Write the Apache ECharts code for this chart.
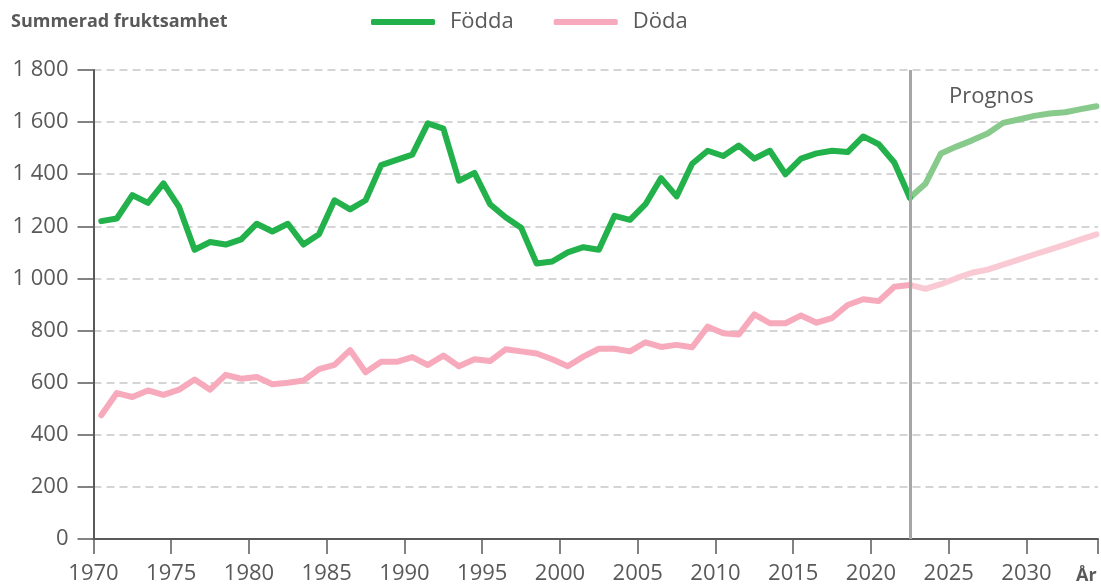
<!DOCTYPE html>
<html>
<head>
<meta charset="utf-8">
<script src="https://cdn.jsdelivr.net/npm/echarts@6/dist/echarts.min.js"></script>
<style>
    html, body { margin: 0; padding: 0; background: #fff; }
    #chart { width: 1101px; height: 585px; }
</style>
</head>
<body>
<div id="chart"></div>
<script>
// utfall 1970-2022
const years = [];
for (let y = 1970; y <= 2022; y++) years.push(y);
const fodda = [
    1220, 1230, 1320, 1290, 1365, 1275, 1110, 1140, 1130, 1150,
    1210, 1180, 1210, 1130, 1170, 1300, 1265, 1300, 1435, 1455,
    1475, 1595, 1575, 1375, 1405, 1285, 1235, 1195, 1057, 1065,
    1100, 1120, 1110, 1240, 1225, 1285, 1385, 1315, 1440, 1490,
    1470, 1510, 1460, 1490, 1400, 1460, 1480, 1490, 1485, 1545,
    1515, 1445, 1310
];
const doda = [
    475, 560, 545, 570, 553, 573, 612, 573, 630, 615,
    622, 594, 600, 608, 652, 668, 725, 640, 680, 680,
    698, 668, 704, 663, 690, 683, 728, 720, 712, 690,
    663, 700, 730, 730, 720, 755, 737, 745, 736, 815,
    790, 785, 862, 828, 828, 858, 830, 848, 898, 920,
    913, 968, 975
];
// prognos 2022-2034
const progYears = [2022, 2023, 2024, 2025, 2026, 2027, 2028, 2029, 2030, 2031, 2032, 2033, 2034];
const foddaProg = [1310, 1363, 1480, 1506, 1530, 1556, 1597, 1610, 1624, 1633, 1638, 1650, 1661];
const dodaProg = [975, 960, 978, 1001, 1022, 1034, 1053, 1072, 1092, 1111, 1130, 1150, 1169];

const textColor = '#595959';
const font = 'Open Sans';

// punkterna ligger mitt i året
const pts = (xs, vs) => xs.map((x, i) => [x + 0.5, vs[i]]);
const spaced = v => String(v).replace(/\B(?=(\d{3})+(?!\d))/g, ' ');

const chart = echarts.init(document.getElementById('chart'), null, { renderer: 'canvas' });
chart.setOption({
    animation: false,
    title: {
        text: 'Summerad fruktsamhet',
        left: 6,
        top: 8,
        textStyle: { fontFamily: font, fontSize: 18, fontWeight: 'bold', color: textColor },
    },
    legend: {
        data: ['Födda', 'Döda'],
        left: 366,
        top: 6,
        icon: 'roundRect',
        itemWidth: 64,
        itemHeight: 6,
        itemGap: 40,
        textStyle: { fontFamily: font, fontSize: 22, color: textColor, padding: [0, 0, 0, 10] },
    },
    grid: { left: 93.5, right: 3, top: 70, bottom: 44 },
    xAxis: {
        type: 'value',
        min: 1970,
        max: 2034.6,
        interval: 5,
        name: 'År',
        nameLocation: 'end',
        nameGap: -22,
        nameTextStyle: {
            fontFamily: font, fontSize: 18, fontWeight: 'bold', color: textColor,
            verticalAlign: 'top', padding: [28, 0, 0, 0],
        },
        axisLine: { lineStyle: { color: textColor, width: 2 } },
        axisTick: { length: 15, lineStyle: { color: textColor, width: 1.5 } },
        axisLabel: {
            fontFamily: font, fontSize: 22, color: textColor, margin: 24,
            formatter: v => (v > 2030 ? '' : String(v)),
        },
        splitLine: { show: false },
    },
    yAxis: {
        type: 'value',
        min: 0,
        max: 1800,
        interval: 200,
        axisLine: { show: true, lineStyle: { color: textColor, width: 2 } },
        axisTick: { show: true, length: 16, lineStyle: { color: textColor, width: 1.5 } },
        axisLabel: { fontFamily: font, fontSize: 22, color: textColor, margin: 25, formatter: spaced },
        splitLine: { lineStyle: { color: '#c8c8c8', width: 1.5, type: [8, 5] } },
    },
    series: [
        {
            name: 'Födda',
            type: 'line',
            data: pts(years, fodda),
            symbol: 'none',
            color: '#23b14b',
            lineStyle: { width: 6, cap: 'round', join: 'round' },
            z: 3,
            markLine: {
                silent: true,
                symbol: 'none',
                label: { show: false },
                lineStyle: { color: '#a6a6a6', width: 3, type: 'solid' },
                data: [{ xAxis: 2022.5 }],
            },
        },
        {
            name: 'Döda',
            type: 'line',
            data: pts(years, doda),
            symbol: 'none',
            color: '#f7aabb',
            lineStyle: { width: 6, cap: 'round', join: 'round' },
            z: 3,
        },
        {
            name: 'Födda prognos',
            type: 'line',
            data: pts(progYears, foddaProg),
            symbol: 'none',
            color: '#88ca8c',
            lineStyle: { width: 6, cap: 'round', join: 'round' },
            z: 2,
        },
        {
            name: 'Döda prognos',
            type: 'line',
            data: pts(progYears, dodaProg),
            symbol: 'none',
            color: '#f9cad4',
            lineStyle: { width: 6, cap: 'round', join: 'round' },
            z: 2,
        },
    ],
    graphic: [
        {
            type: 'text',
            left: 949,
            top: 86,
            style: { text: 'Prognos', fontFamily: font, fontSize: 22, fill: textColor },
        },
    ],
});
</script>
</body>
</html>
